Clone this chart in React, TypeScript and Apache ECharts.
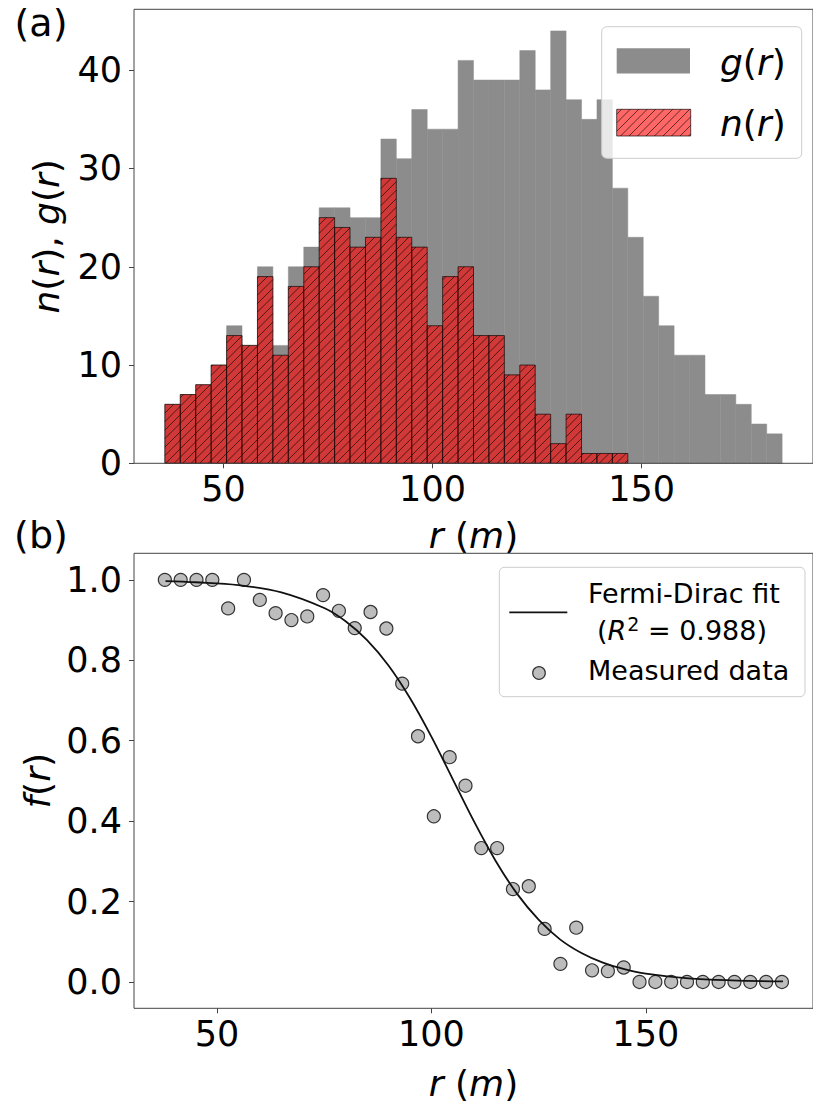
import React, { useEffect, useRef } from 'react';
import * as echarts from 'echarts';

// ---- data ----
const binEdges = [
  36.0, 39.69, 43.38, 47.07, 50.76, 54.45, 58.14, 61.83, 65.52, 69.21, 72.9,
  76.59, 80.28, 83.97, 87.66, 91.35, 95.04, 98.73, 102.42, 106.11, 109.8,
  113.49, 117.18, 120.87, 124.56, 128.25, 131.94, 135.63, 139.32, 143.01, 146.7,
  150.39, 154.08, 157.77, 161.46, 165.15, 168.84, 172.53, 176.22, 179.91, 183.6,
];
const gCounts = [6, 7, 8, 10, 14, 12, 20, 12, 20, 22, 26, 26, 25, 25, 33, 31, 36, 34, 34, 41, 39, 39, 39, 42, 38, 44, 37, 35, 37, 28, 23, 17, 14, 11, 11, 7, 7, 6, 4, 3];
const nCounts = [6, 7, 8, 10, 13, 12, 19, 11, 18, 20, 25, 24, 22, 23, 29, 23, 22, 14, 19, 20, 13, 13, 9, 10, 5, 2, 5, 1, 1, 1];
const fMeasured = [1.0, 1.0, 1.0, 1.0, 0.929, 1.0, 0.95, 0.917, 0.9, 0.909, 0.962, 0.923, 0.88, 0.92, 0.879, 0.742, 0.611, 0.412, 0.559, 0.488, 0.333, 0.333, 0.231, 0.238, 0.132, 0.045, 0.135, 0.029, 0.027, 0.036, 0, 0, 0, 0, 0, 0, 0, 0, 0, 0];
const fitR = [38, 45, 55, 65, 75, 80, 85, 90, 95, 100, 105, 110, 115, 120, 125, 130, 135, 140, 145, 150, 160, 170, 182];
const fitF = [0.997, 0.994, 0.987, 0.969, 0.93, 0.897, 0.85, 0.787, 0.706, 0.61, 0.504, 0.398, 0.301, 0.219, 0.155, 0.106, 0.072, 0.048, 0.032, 0.021, 0.009, 0.004, 0.0014];
const histYTicks = [0, 10, 20, 30, 40];
const fracYTicks = [0, 0.2, 0.4, 0.6, 0.8, 1.0];
const xTicks = [50, 100, 150];

const FONT = "'DejaVu Sans', sans-serif";
const FRAME = '#444';
const HATCH = 'rgba(0,0,0,0.6)';

function hatchLines(x0: number, x1: number, yT: number, yB: number, spacing: number, slope: number) {
  const out: any[] = [];
  const cMin = yT + slope * x0;
  const cMax = yB + slope * x1;
  for (let c = Math.ceil(cMin / spacing) * spacing; c <= cMax; c += spacing) {
    const xa = Math.max(x0, (c - yB) / slope);
    const xb = Math.min(x1, (c - yT) / slope);
    if (xb - xa > 0.3) out.push({ x1: xa, y1: c - slope * xa, x2: xb, y2: c - slope * xb });
  }
  return out;
}

const makeHist = (fill: string, hatched: boolean) => (params: any, api: any) => {
  const p0 = api.coord([api.value(0), 0]);
  const p1 = api.coord([api.value(1), api.value(2)]);
  const x = p0[0], w = p1[0] - p0[0], y = p1[1], h = p0[1] - p1[1];
  const children: any[] = [
    { type: 'rect', shape: { x, y, width: w, height: h }, style: { fill, stroke: hatched ? null : fill, lineWidth: hatched ? 0 : 0.5 } },
  ];
  if (hatched) {
    hatchLines(x, x + w, y, y + h, 8.5, 1).forEach((l) =>
      children.push({ type: 'line', shape: l, style: { stroke: HATCH, lineWidth: 1 } })
    );
    children.push({ type: 'rect', shape: { x, y, width: w, height: h }, style: { fill: 'none', stroke: 'rgba(0,0,0,0.65)', lineWidth: 1 } });
  }
  return { type: 'group', children };
};

const italic = (size: number) => ({ fontStyle: 'italic', fontSize: size, fontFamily: FONT, color: '#000' });
const upright = (size: number) => ({ fontSize: size, fontFamily: FONT, color: '#000' });

const axisBase = (labelMargin: number, ticks: number[], fmt?: (v: number) => string) => ({
  type: 'value',
  splitLine: { show: false },
  axisLine: { show: false, onZero: false },
  axisTick: { show: true, inside: false, length: 5, customValues: ticks, lineStyle: { color: FRAME, width: 1 } },
  axisLabel: { customValues: ticks, fontSize: 35, fontFamily: FONT, color: '#000', margin: labelMargin, formatter: fmt },
});

export default function App() {
  const ref = useRef<HTMLDivElement>(null);
  useEffect(() => {
    if (!ref.current) return;
    const chart = echarts.init(ref.current, null, { renderer: 'svg' });
    const gData = gCounts.map((v, i) => [binEdges[i], binEdges[i + 1], v]);
    const nData = nCounts.map((v, i) => [binEdges[i], binEdges[i + 1], v]);
    const fData = fMeasured.map((v, i) => [(binEdges[i] + binEdges[i + 1]) / 2, v]);
    const fitData = fitR.map((r, i) => [r, fitF[i]]);

    const legHatch = hatchLines(616.7, 690.7, 109.3, 136, 8.5, 1).map((l) => ({
      type: 'line', shape: l, style: { stroke: HATCH, lineWidth: 1 }, z: 103,
    }));

    const option: any = {
      animation: false,
      backgroundColor: '#fff',
      grid: [
        { left: 134, top: 9.3, width: 685, height: 454, show: true, borderColor: FRAME, borderWidth: 1, backgroundColor: 'transparent', z: 10 },
        { left: 134, top: 553.3, width: 685, height: 455, show: true, borderColor: FRAME, borderWidth: 1, backgroundColor: 'transparent', z: 10 },
      ],
      xAxis: [
        {
          ...axisBase(8, xTicks), gridIndex: 0, min: 28.62, max: 190.98,
          name: '{i|r} ({i|m})', nameLocation: 'middle', nameGap: 54,
          nameTextStyle: { ...upright(36), rich: { i: italic(36) } },
        },
        {
          ...axisBase(8, xTicks), gridIndex: 1, min: 30.65, max: 189.0,
          name: '{i|r} ({i|m})', nameLocation: 'middle', nameGap: 57,
          nameTextStyle: { ...upright(36), rich: { i: italic(36) } },
        },
      ],
      yAxis: [
        {
          ...axisBase(12, histYTicks), gridIndex: 0, min: 0, max: 46.2,
          name: '{i|n}({i|r}), {i|g}({i|r})', nameLocation: 'middle', nameRotate: 90, nameGap: 70,
          nameTextStyle: { ...upright(36), rich: { i: italic(36) } },
        },
        {
          ...axisBase(12, fracYTicks, (v: number) => v.toFixed(1)), gridIndex: 1, min: -0.0655, max: 1.066,
          name: '{i|f}({i|r})', nameLocation: 'middle', nameRotate: 90, nameGap: 76,
          nameTextStyle: { ...upright(36), rich: { i: italic(36) } },
        },
      ],
      series: [
        {
          name: 'g(r)', type: 'custom', xAxisIndex: 0, yAxisIndex: 0, data: gData,
          encode: { x: [0, 1], y: 2 }, renderItem: makeHist('#8c8c8c', false), z: 2,
        },
        {
          name: 'n(r)', type: 'custom', xAxisIndex: 0, yAxisIndex: 0, data: nData,
          encode: { x: [0, 1], y: 2 }, renderItem: makeHist('rgba(255,0,0,0.6)', true), z: 3,
        },
        {
          name: 'Measured data', type: 'scatter', xAxisIndex: 1, yAxisIndex: 1, data: fData,
          symbolSize: 13, itemStyle: { color: '#bdbdbd', borderColor: '#333', borderWidth: 1.2, opacity: 1 }, z: 2,
        },
        {
          name: 'Fermi-Dirac fit', type: 'line', xAxisIndex: 1, yAxisIndex: 1, data: fitData,
          smooth: 0.35, showSymbol: false, symbol: 'none',
          lineStyle: { color: '#111', width: 1.8 }, z: 4,
        },
      ],
      graphic: [
        { type: 'text', x: 41, y: 23, z: 100, style: { text: '(a)', fontSize: 38, fontFamily: FONT, fill: '#000', align: 'center', verticalAlign: 'middle' } },
        { type: 'text', x: 41, y: 535, z: 100, style: { text: '(b)', fontSize: 38, fontFamily: FONT, fill: '#000', align: 'center', verticalAlign: 'middle' } },
        // legend (a)
        { type: 'rect', z: 100, shape: { x: 601.7, y: 26.7, width: 200, height: 131.6, r: 5 }, style: { fill: 'rgba(255,255,255,0.8)', stroke: '#cccccc', lineWidth: 1 } },
        { type: 'rect', z: 101, shape: { x: 616.7, y: 48.3, width: 73.3, height: 25.3 }, style: { fill: '#8c8c8c' } },
        { type: 'rect', z: 101, shape: { x: 616.7, y: 109.3, width: 74, height: 26.7 }, style: { fill: 'rgba(255,0,0,0.6)' } },
        ...legHatch,
        { type: 'rect', z: 104, shape: { x: 616.7, y: 109.3, width: 74, height: 26.7 }, style: { fill: 'none', stroke: 'rgba(0,0,0,0.65)', lineWidth: 1 } },
        { type: 'text', z: 105, x: 720, y: 62, style: { text: '{i|g}({i|r})', rich: { i: italic(36) }, fontSize: 36, fontFamily: FONT, fill: '#000', verticalAlign: 'middle' } },
        { type: 'text', z: 105, x: 720, y: 123, style: { text: '{i|n}({i|r})', rich: { i: italic(36) }, fontSize: 36, fontFamily: FONT, fill: '#000', verticalAlign: 'middle' } },
        // legend (b)
        { type: 'rect', z: 100, shape: { x: 499.3, y: 567.3, width: 305.7, height: 129.4, r: 5 }, style: { fill: 'rgba(255,255,255,0.8)', stroke: '#cccccc', lineWidth: 1 } },
        { type: 'line', z: 101, shape: { x1: 509.3, y1: 612.3, x2: 567.3, y2: 612.3 }, style: { stroke: '#111', lineWidth: 1.8 } },
        { type: 'circle', z: 101, shape: { cx: 539, cy: 673, r: 6.3 }, style: { fill: '#bdbdbd', stroke: '#333', lineWidth: 1.2 } },
        { type: 'text', z: 105, x: 588, y: 593, style: { text: 'Fermi-Dirac fit', fontSize: 27, fontFamily: FONT, fill: '#000', verticalAlign: 'middle' } },
        {
          type: 'text', z: 105, x: 597, y: 630,
          style: {
            text: '({i|R}{s|2} = 0.988)', fontSize: 27, fontFamily: FONT, fill: '#000', verticalAlign: 'middle',
            rich: { i: italic(27), s: { fontSize: 19, fontFamily: FONT, color: '#000', padding: [0, 0, 12, 1] } },
          },
        },
        { type: 'text', z: 105, x: 588, y: 670, style: { text: 'Measured data', fontSize: 27, fontFamily: FONT, fill: '#000', verticalAlign: 'middle' } },
      ],
    };
    chart.setOption(option);
    return () => chart.dispose();
  }, []);
  return <div ref={ref} style={{ position: 'fixed', left: 0, top: 0, width: 813, height: 1105, background: '#fff' }} />;
}
